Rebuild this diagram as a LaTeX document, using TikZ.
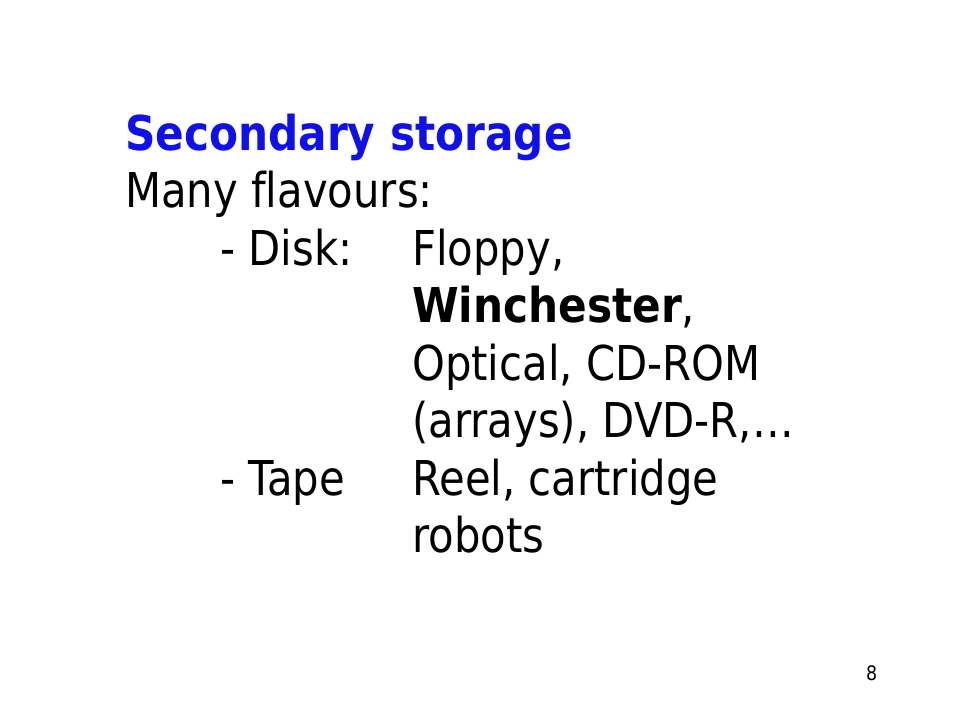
\documentclass[tikz,border=0pt]{standalone}
\usepackage{fontspec}
\setmainfont{DejaVu Sans}[FakeStretch=0.87, Ligatures=NoCommon,
    BoldFeatures={FakeStretch=0.88}]
\usepackage{tikz}
\definecolor{slideblue}{RGB}{16,16,235}

\begin{document}
\begin{tikzpicture}[x=1pt,y=-1pt,
    line/.style={anchor=base west, inner sep=0pt, font=\fontsize{48}{57.5}\selectfont}]
    \useasboundingbox (0,0) rectangle (960,720);

    % heading
    \node[line, text=slideblue, font=\fontsize{48}{57.5}\selectfont\bfseries] (title) at (125,150) {Secondary storage};
    \node[line] (intro) at (125,207.5) {Many flavours:};

    % disks
    \node[line] (disk) at (220,265) {- Disk:};
    \node[line] (floppy) at (412,265) {Floppy,};
    \node[line] (winch) at (412,322.5) {\textbf{Winchester},};
    \node[line] (optical) at (412,380) {Optical, CD-ROM};
    \node[line] (arrays) at (412,437.5) {(arrays), DVD-R,\dots};

    % tapes
    \node[line] (tape) at (220,495) {- Tape};
    \node[line] (reel) at (412,495) {Reel, cartridge};
    \node[line] (robots) at (412,552.5) {robots};

    % page number
    \node[anchor=base west, inner sep=0pt, font=\fontsize{20}{24}\selectfont] (page) at (866,680) {8};
\end{tikzpicture}
\end{document}
